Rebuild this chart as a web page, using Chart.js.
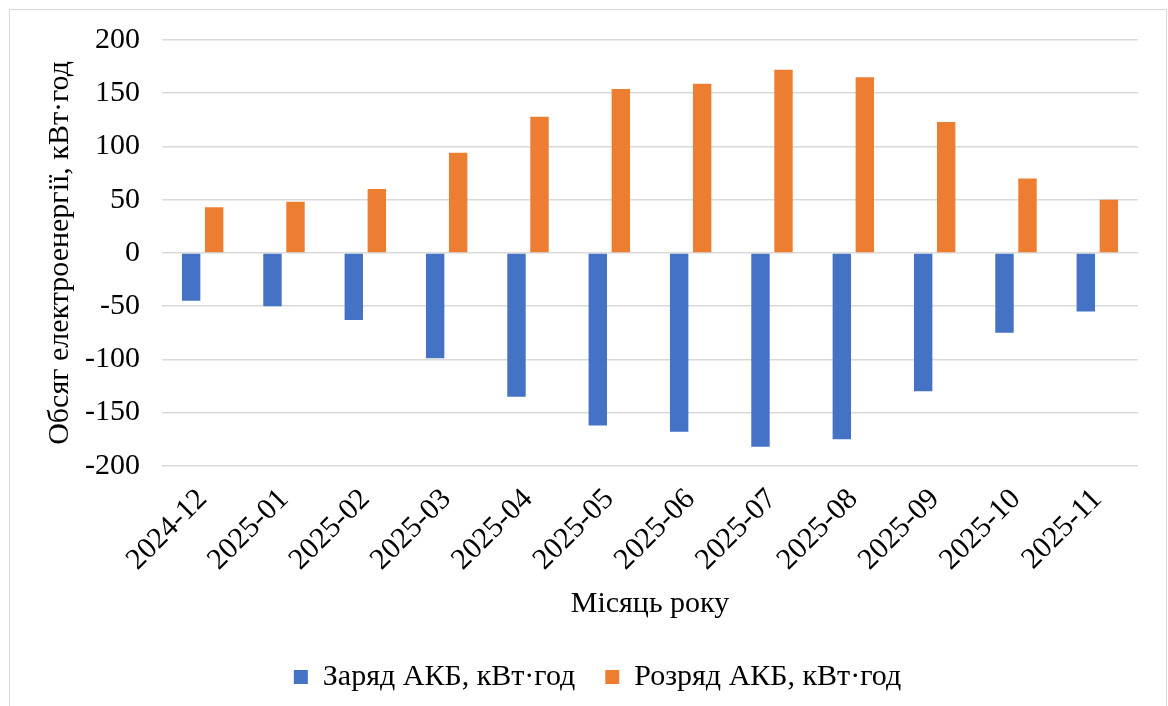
<!DOCTYPE html>
<html lang="uk">
<head>
<meta charset="utf-8">
<title>Заряд і розряд АКБ</title>
<script src="https://cdn.jsdelivr.net/npm/chart.js@4.4.1/dist/chart.umd.min.js"></script>
<style>
  html, body {
    margin: 0;
    padding: 0;
    background: #fff;
    overflow: hidden;
  }
  #frame {
    position: absolute;
    left: 9px;
    top: 9px;
    width: 1156px;
    height: 720px;
    border: 1px solid #d9d9d9;
  }
  #wrap {
    position: absolute;
    left: 0;
    top: 0;
    width: 1168px;
    height: 706px;
  }
</style>
</head>
<body>
<div id="frame"></div>
<div id="wrap"><canvas id="chart"></canvas></div>
<script>
  const MONTHS = [
    '2024-12', '2025-01', '2025-02', '2025-03', '2025-04', '2025-05',
    '2025-06', '2025-07', '2025-08', '2025-09', '2025-10', '2025-11',
  ];

  // charge is stored as negative energy (into the battery)
  const CHARGE = [-45, -50, -63, -99, -135, -162, -168, -182, -175, -130, -75, -55];
  const DISCHARGE = [43, 48, 60, 94, 128, 154, 159, 172, 165, 123, 70, 50];

  const SERIES_NAMES = ['Заряд АКБ, кВт·год', 'Розряд АКБ, кВт·год'];
  const Y_TITLE = 'Обсяг електроенергії, кВт·год';
  const X_TITLE = 'Місяць року';

  const BLUE = '#4472C4';
  const ORANGE = '#ED7D31';
  const FONT = "'Liberation Serif', 'Times New Roman', serif";
  const SIZE = 30;

  Chart.defaults.font.family = FONT;
  Chart.defaults.color = '#000';

  new Chart(document.getElementById('chart'), {
    type: 'bar',
    data: {
      labels: MONTHS,
      datasets: [
        {
          label: SERIES_NAMES[0],
          data: CHARGE,
          backgroundColor: BLUE,
          categoryPercentage: 0.566,
          barPercentage: 0.8,
        },
        {
          label: SERIES_NAMES[1],
          data: DISCHARGE,
          backgroundColor: ORANGE,
          categoryPercentage: 0.566,
          barPercentage: 0.8,
        },
      ],
    },
    options: {
      responsive: true,
      maintainAspectRatio: false,
      animation: false,
      layout: {
        padding: { top: 24, right: 30, bottom: 4, left: 57 },
      },
      plugins: {
        tooltip: { enabled: false },
        legend: {
          position: 'bottom',
          labels: {
            boxWidth: 14,
            boxHeight: 14,
            padding: 30,
            font: { size: SIZE },
          },
        },
      },
      scales: {
        x: {
          grid: { display: false },
          border: { display: false },
          ticks: {
            minRotation: 45,
            maxRotation: 45,
            padding: 8,
            font: { size: SIZE },
          },
          title: {
            display: true,
            text: X_TITLE,
            font: { size: SIZE },
            padding: { top: 0, bottom: 10 },
          },
        },
        y: {
          min: -200,
          max: 200,
          border: { display: false },
          grid: {
            color: '#d9d9d9',
            lineWidth: 1.5,
            drawTicks: false,
          },
          ticks: {
            stepSize: 50,
            padding: 22,
            font: { size: SIZE },
          },
          title: {
            display: true,
            text: Y_TITLE,
            font: { size: SIZE, lineHeight: 0.2 },
            padding: { top: 0, bottom: 0 },
          },
        },
      },
    },
  });
</script>
</body>
</html>
